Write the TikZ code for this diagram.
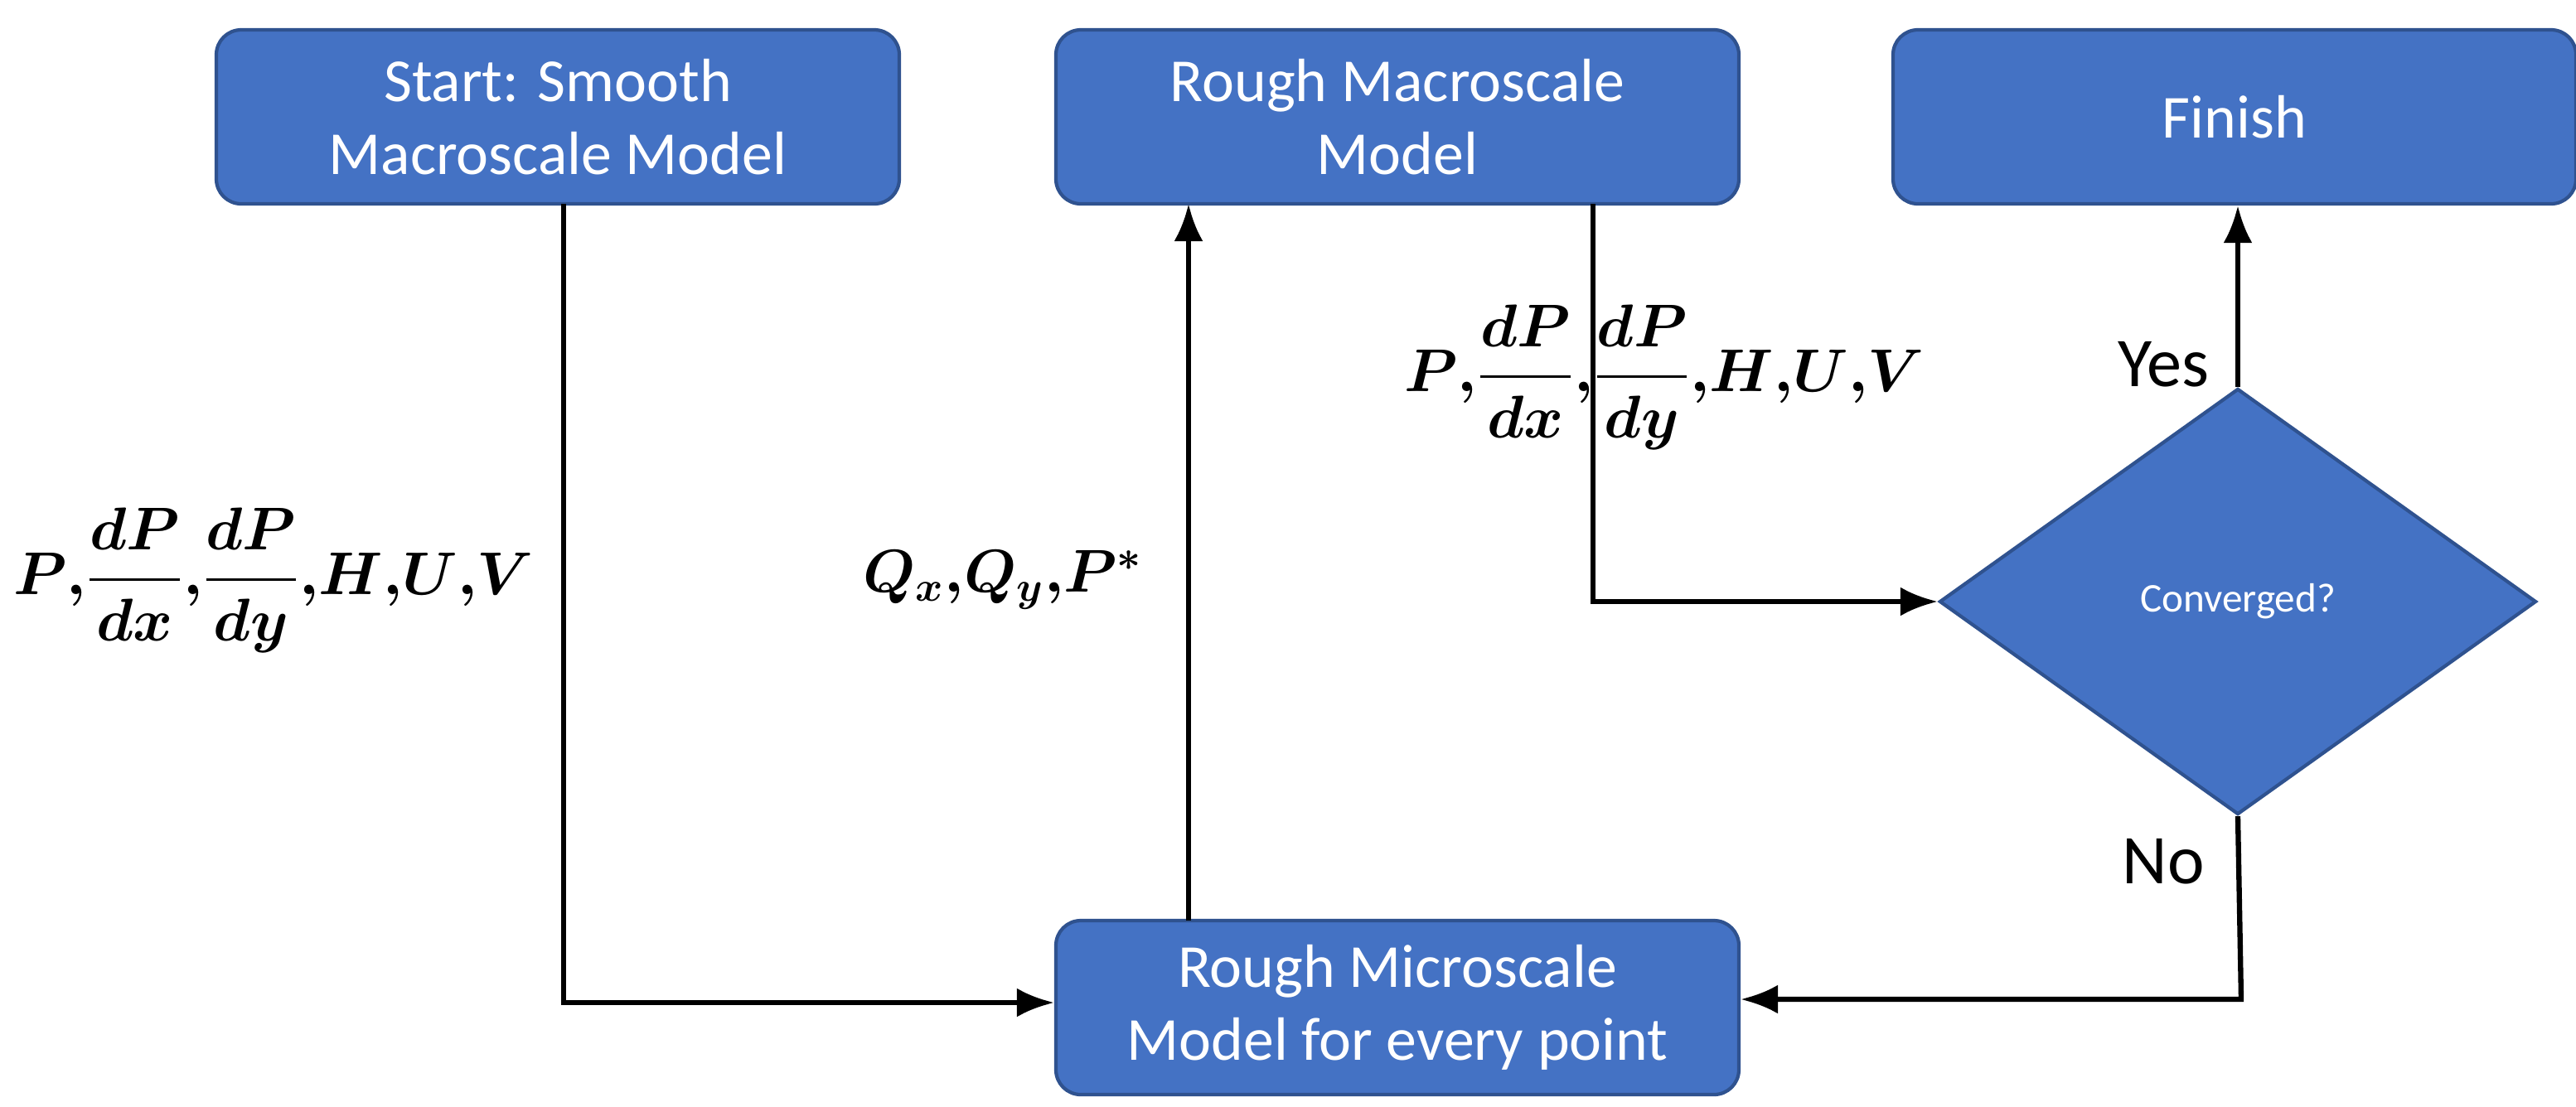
\documentclass[tikz,border=0pt]{standalone}
\usepackage{fontspec}
\setmainfont{Carlito}
\usepackage{amsmath,bm}
\usetikzlibrary{shapes.geometric,arrows.meta}
\definecolor{boxfill}{HTML}{4472C4}
\definecolor{boxdraw}{HTML}{2F528F}
\newcommand{\cm}{\mathpunct{,}\!}
\begin{document}
\begin{tikzpicture}[
  box/.style={draw=boxdraw,line width=1.2pt,fill=boxfill,rounded corners=0.3cm,minimum width=8.24cm,minimum height=2.1cm,text=white,align=center,font=\fontsize{21}{25}\selectfont},
  dia/.style={diamond,draw=boxdraw,line width=1.2pt,fill=boxfill,aspect=1.4,minimum width=7.2cm,minimum height=5.14cm,inner sep=0pt,text=white,font=\fontsize{14}{17}\selectfont},
  con/.style={line width=1.8pt,-{Latex[length=0.45cm,width=0.35cm]}},
  lab/.style={font=\fontsize{24}{28}\selectfont,text=black},
  math/.style={font=\fontsize{20}{24}\selectfont\boldmath,inner sep=0pt}
]
\useasboundingbox (0,0) rectangle (31.08,-13.35);
\node[box] (start) at (6.73,-1.41) {Start: Smooth\\Macroscale Model};
\node[box] (macro) at (16.86,-1.41) {Rough Macroscale\\Model};
\node[box] (finish) at (26.96,-1.41) {Finish};
\node[box] (micro) at (16.86,-12.16) {Rough Microscale\\Model for every point};
\node[dia] (conv) at (27.0,-7.26) {Converged?};
\coordinate (c1) at (6.8,-12.1);
\coordinate (c2) at (19.22,-7.26);
\coordinate (c3) at (27.04,-12.06);
\draw[con] (6.8,-2.46) -- (c1) -- (c1 -| micro.west);
\draw[con] (14.34,-11.11) -- (14.34,-2.46);
\draw[con] (19.22,-2.46) -- (c2) -- (conv.west);
\draw[con] (conv.north) -- (conv.north |- finish.south);
\draw[con] (conv.south) -- (c3) -- (c3 -| micro.east);
\node[math] (l1) at (3.3,-7.0) {$P\cm\dfrac{dP}{dx}\cm\dfrac{dP}{dy}\cm H\cm U\cm V$};
\node[math] (l2) at (12.1,-7.0) {$Q_x\cm Q_y\cm P^*$};
\node[math] (l3) at (20.08,-4.55) {$P\cm\dfrac{dP}{dx}\cm\dfrac{dP}{dy}\cm H\cm U\cm V$};
\node[lab] (yes) at (26.1,-4.4) {Yes};
\node[lab] (no) at (26.1,-10.4) {No};
\end{tikzpicture}
\end{document}
